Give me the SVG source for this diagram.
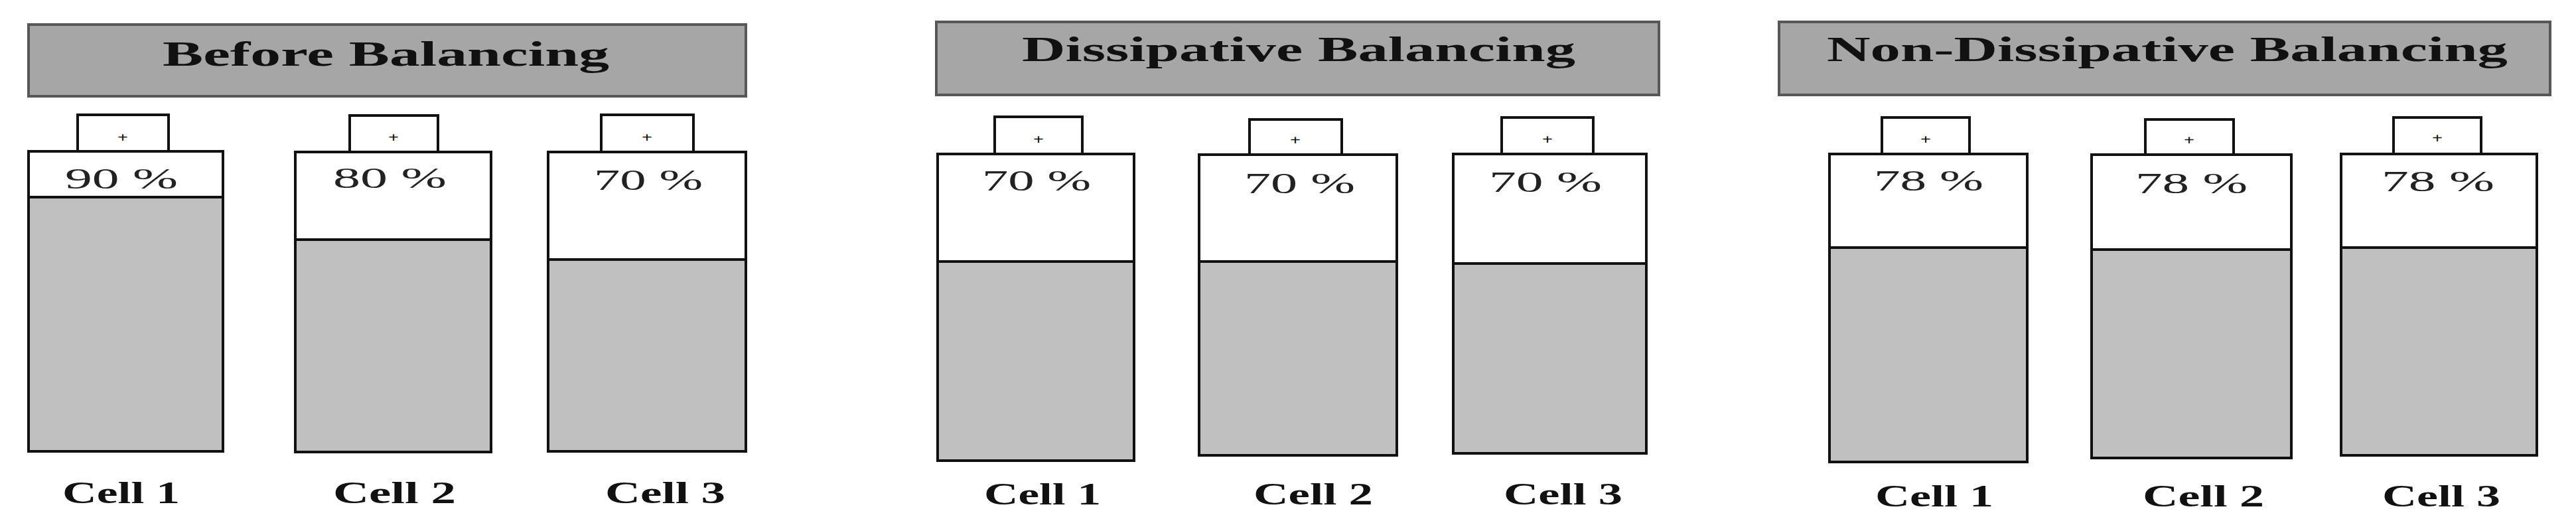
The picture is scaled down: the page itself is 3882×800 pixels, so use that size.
<svg xmlns="http://www.w3.org/2000/svg" width="3882" height="800" viewBox="0 0 3882 800">
<style>
.bg{fill:#ffffff}
.title{fill:#a6a6a6;stroke:#575757;stroke-width:4}
.ttl{font-family:"Liberation Serif","Times New Roman",serif;font-weight:bold;font-size:53px;fill:#111}
.cap{fill:#ffffff;stroke:#111;stroke-width:4}
.body{fill:none;stroke:#111;stroke-width:4}
.top{fill:#ffffff}
.fill{fill:#c0c0c0}
.lvl{stroke:#111;stroke-width:4}
.pct{font-family:"Liberation Serif","Times New Roman",serif;font-size:45px;fill:#222}
.plus{font-family:"Liberation Serif","Times New Roman",serif;font-weight:bold;font-size:20px;fill:#111}
.lbl{font-family:"Liberation Serif","Times New Roman",serif;font-weight:bold;font-size:47px;fill:#111}
</style>
<rect class="bg" x="0" y="0" width="3882" height="800"/>

<g id="title-before">
<rect class="title" x="43" y="37" width="1081" height="108"/>
<text class="ttl" x="245" y="99" textLength="673" lengthAdjust="spacingAndGlyphs">Before Balancing</text>
</g>
<g id="title-dissipative">
<rect class="title" x="1411" y="33" width="1089" height="110"/>
<text class="ttl" x="1540" y="92" textLength="834" lengthAdjust="spacingAndGlyphs">Dissipative Balancing</text>
</g>
<g id="title-nondissipative">
<rect class="title" x="2681" y="33" width="1162" height="110"/>
<text class="ttl" x="2753" y="92" textLength="1026" lengthAdjust="spacingAndGlyphs">Non-Dissipative Balancing</text>
</g>

<!-- Panel 1 -->
<g id="before-cell1">
<rect class="cap" x="117" y="173" width="137" height="55"/>
<rect class="top" x="43" y="228" width="293" height="452"/>
<rect class="fill" x="43" y="297" width="293" height="383"/>
<line class="lvl" x1="43" y1="297" x2="336" y2="297"/>
<rect class="body" x="43" y="228" width="293" height="452"/>
<text class="plus" x="177" y="214" textLength="16" lengthAdjust="spacingAndGlyphs">+</text>
<text class="pct" x="98" y="284" textLength="170" lengthAdjust="spacingAndGlyphs">90 %</text>
<text class="lbl" x="94" y="758" textLength="177" lengthAdjust="spacingAndGlyphs">Cell 1</text>
</g>
<g id="before-cell2">
<rect class="cap" x="527" y="174" width="133" height="55"/>
<rect class="top" x="445" y="229" width="295" height="452"/>
<rect class="fill" x="445" y="361" width="295" height="320"/>
<line class="lvl" x1="445" y1="361" x2="740" y2="361"/>
<rect class="body" x="445" y="229" width="295" height="452"/>
<text class="plus" x="585" y="214" textLength="16" lengthAdjust="spacingAndGlyphs">+</text>
<text class="pct" x="502" y="283" textLength="171" lengthAdjust="spacingAndGlyphs">80 %</text>
<text class="lbl" x="502" y="758" textLength="185" lengthAdjust="spacingAndGlyphs">Cell 2</text>
</g>
<g id="before-cell3">
<rect class="cap" x="906" y="173" width="139" height="56"/>
<rect class="top" x="826" y="229" width="298" height="451"/>
<rect class="fill" x="826" y="391" width="298" height="289"/>
<line class="lvl" x1="826" y1="391" x2="1124" y2="391"/>
<rect class="body" x="826" y="229" width="298" height="451"/>
<text class="plus" x="967" y="214" textLength="16" lengthAdjust="spacingAndGlyphs">+</text>
<text class="pct" x="895" y="286" textLength="164" lengthAdjust="spacingAndGlyphs">70 %</text>
<text class="lbl" x="912" y="758" textLength="181" lengthAdjust="spacingAndGlyphs">Cell 3</text>
</g>

<!-- Panel 2 -->
<g id="diss-cell1">
<rect class="cap" x="1499" y="176" width="132" height="56"/>
<rect class="top" x="1413" y="232" width="296" height="462"/>
<rect class="fill" x="1413" y="394" width="296" height="300"/>
<line class="lvl" x1="1413" y1="394" x2="1709" y2="394"/>
<rect class="body" x="1413" y="232" width="296" height="462"/>
<text class="plus" x="1557" y="217" textLength="16" lengthAdjust="spacingAndGlyphs">+</text>
<text class="pct" x="1480" y="287" textLength="164" lengthAdjust="spacingAndGlyphs">70 %</text>
<text class="lbl" x="1483" y="760" textLength="176" lengthAdjust="spacingAndGlyphs">Cell 1</text>
</g>
<g id="diss-cell2">
<rect class="cap" x="1883" y="180" width="139" height="53"/>
<rect class="top" x="1807" y="233" width="298" height="453"/>
<rect class="fill" x="1807" y="394" width="298" height="292"/>
<line class="lvl" x1="1807" y1="394" x2="2105" y2="394"/>
<rect class="body" x="1807" y="233" width="298" height="453"/>
<text class="plus" x="1944" y="218" textLength="16" lengthAdjust="spacingAndGlyphs">+</text>
<text class="pct" x="1875" y="291" textLength="167" lengthAdjust="spacingAndGlyphs">70 %</text>
<text class="lbl" x="1889" y="760" textLength="180" lengthAdjust="spacingAndGlyphs">Cell 2</text>
</g>
<g id="diss-cell3">
<rect class="cap" x="2263" y="177" width="138" height="55"/>
<rect class="top" x="2190" y="232" width="291" height="451"/>
<rect class="fill" x="2190" y="397" width="291" height="286"/>
<line class="lvl" x1="2190" y1="397" x2="2481" y2="397"/>
<rect class="body" x="2190" y="232" width="291" height="451"/>
<text class="plus" x="2324" y="217" textLength="16" lengthAdjust="spacingAndGlyphs">+</text>
<text class="pct" x="2244" y="289" textLength="170" lengthAdjust="spacingAndGlyphs">70 %</text>
<text class="lbl" x="2266" y="760" textLength="179" lengthAdjust="spacingAndGlyphs">Cell 3</text>
</g>

<!-- Panel 3 -->
<g id="nondiss-cell1">
<rect class="cap" x="2836" y="177" width="132" height="55"/>
<rect class="top" x="2757" y="232" width="298" height="464"/>
<rect class="fill" x="2757" y="373" width="298" height="323"/>
<line class="lvl" x1="2757" y1="373" x2="3055" y2="373"/>
<rect class="body" x="2757" y="232" width="298" height="464"/>
<text class="plus" x="2894" y="217" textLength="16" lengthAdjust="spacingAndGlyphs">+</text>
<text class="pct" x="2824" y="287" textLength="165" lengthAdjust="spacingAndGlyphs">78 %</text>
<text class="lbl" x="2826" y="763" textLength="178" lengthAdjust="spacingAndGlyphs">Cell 1</text>
</g>
<g id="nondiss-cell2">
<rect class="cap" x="3233" y="180" width="133" height="53"/>
<rect class="top" x="3152" y="233" width="301" height="457"/>
<rect class="fill" x="3152" y="376" width="301" height="314"/>
<line class="lvl" x1="3152" y1="376" x2="3453" y2="376"/>
<rect class="body" x="3152" y="233" width="301" height="457"/>
<text class="plus" x="3291" y="218" textLength="16" lengthAdjust="spacingAndGlyphs">+</text>
<text class="pct" x="3218" y="291" textLength="169" lengthAdjust="spacingAndGlyphs">78 %</text>
<text class="lbl" x="3229" y="763" textLength="183" lengthAdjust="spacingAndGlyphs">Cell 2</text>
</g>
<g id="nondiss-cell3">
<rect class="cap" x="3607" y="177" width="132" height="55"/>
<rect class="top" x="3528" y="232" width="295" height="454"/>
<rect class="fill" x="3528" y="373" width="295" height="313"/>
<line class="lvl" x1="3528" y1="373" x2="3823" y2="373"/>
<rect class="body" x="3528" y="232" width="295" height="454"/>
<text class="plus" x="3665" y="215" textLength="16" lengthAdjust="spacingAndGlyphs">+</text>
<text class="pct" x="3589" y="288" textLength="170" lengthAdjust="spacingAndGlyphs">78 %</text>
<text class="lbl" x="3590" y="763" textLength="178" lengthAdjust="spacingAndGlyphs">Cell 3</text>
</g>

<g id="connectors"/>
</svg>
